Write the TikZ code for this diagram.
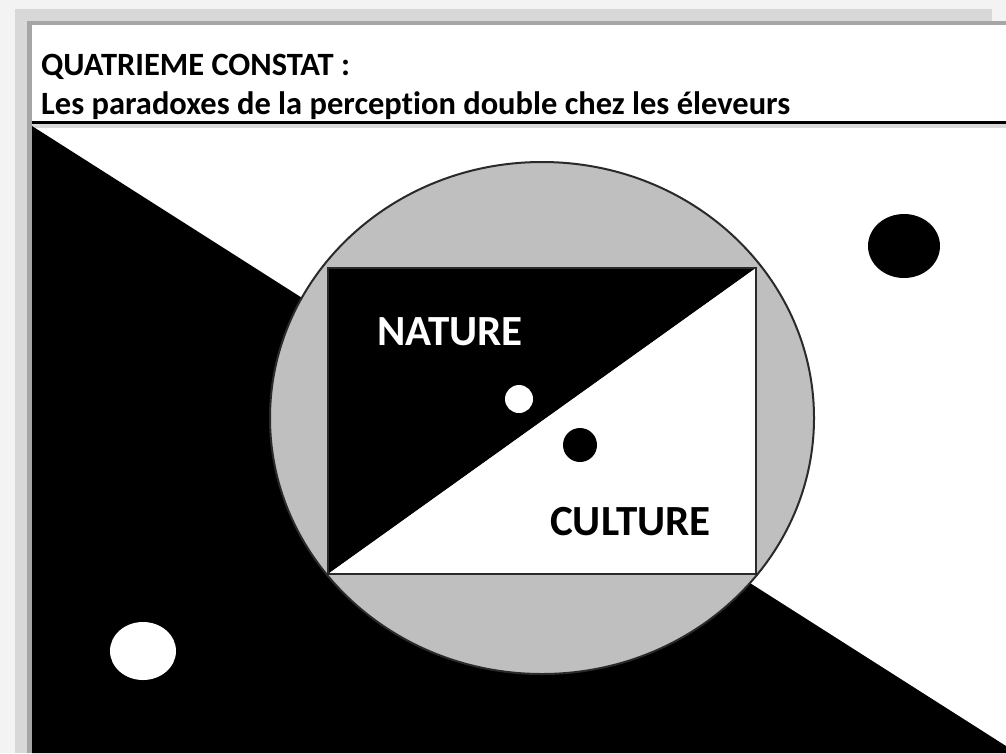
\documentclass[tikz,border=0pt]{standalone}
\usepackage{fontspec}
\setmainfont[Ligatures={NoCommon}]{Carlito}
\definecolor{bgl}{HTML}{F3F3F3}
\definecolor{shA}{HTML}{D8D8D8}
\definecolor{shB}{HTML}{A6A6A6}
\definecolor{circgrey}{HTML}{BFBFBF}
\definecolor{edge}{HTML}{2A2A2A}
\begin{document}
\begin{tikzpicture}[x=1pt,y=-1pt,
  lbl/.style={inner sep=0pt,anchor=base west,font=\bfseries\fontsize{43}{43}\selectfont},
  ttl/.style={inner sep=0pt,anchor=base west,font=\bfseries\fontsize{32.5}{36}\selectfont}]
\useasboundingbox (0,0) rectangle (1006,753);
% page background and shadow
\fill[bgl] (0,0) rectangle (1006,753);
\fill[shA] (15,9) rectangle (992,753);
\fill[shB] (27,21) rectangle (1006,753);
\fill[white] (32,25) rectangle (1006,753);
% title
\node[ttl] (t1) at (41,75) {QUATRIEME CONSTAT :};
\node[ttl] (t2) at (41,114) {Les paradoxes de la perception double chez les éleveurs};
\fill[black!15] (32,124) rectangle (1006,128);
\draw[black,line width=2.5pt] (32,122.5) -- (1006,122.5);
% big black triangle
\fill[black] (32,126) -- (1006,746) -- (1006,753) -- (32,753) -- cycle;
% ellipse
\filldraw[fill=circgrey,draw=edge,line width=2pt] (542,418) ellipse [x radius=272, y radius=256];
% rectangle split
\fill[black] (328,268) -- (756,268) -- (328,574) -- cycle;
\fill[white] (756,268) -- (756,574) -- (328,574) -- cycle;
\draw[edge,line width=2pt] (328,268) rectangle (756,574);
% dots
\fill[white] (519,399) circle (14);
\fill[black] (580,445) circle (17);
\fill[black] (904,246) ellipse [x radius=36, y radius=32];
\fill[white] (143,651) ellipse [x radius=33, y radius=29];
% labels
\node[lbl,text=white] (nat) at (377,345) {NATURE};
\node[lbl,text=black] (cul) at (550,535) {CULTURE};
\end{tikzpicture}
\end{document}
